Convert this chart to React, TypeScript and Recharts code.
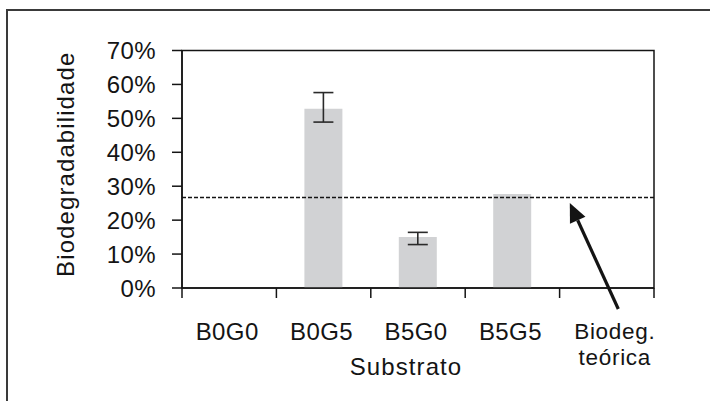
import React from 'react';
import {
  ComposedChart,
  Bar,
  XAxis,
  YAxis,
  ErrorBar,
  ReferenceLine,
  ReferenceDot,
  ReferenceArea,
} from 'recharts';

// ---- data ----
const categories = ['B0G0', 'B0G5', 'B5G0', 'B5G5', 'Biodeg. teórica'];
const biodegradability = [0, 52.8, 15.0, 27.7, null];
const errorLow = [null, 3.9, 2.2, null, null];
const errorHigh = [null, 4.8, 1.4, null, null];
const theoreticalBiodeg = 26.7;
const yTicks = [0, 10, 20, 30, 40, 50, 60, 70];

const data = categories.map((c, i) => ({
  name: c,
  value: biodegradability[i],
  err: errorLow[i] == null ? undefined : [errorLow[i], errorHigh[i]],
}));

// ---- layout ----
const W = 710;
const H = 401;
const M_TOP = 50.5;
const M_RIGHT = 56;
const Y_AXIS_W = 182;
const X_AXIS_H = 113;
const PLOT_W = W - Y_AXIS_W - M_RIGHT;
const BAND = PLOT_W / categories.length;
const FONT = '"Liberation Sans", Arial, sans-serif';
const INK = '#141414';
const TICK_STYLE = { fontFamily: FONT, fontSize: 24, letterSpacing: 0.4, fill: INK };
const TWO_LINE_STYLE = { fontFamily: FONT, fontSize: 22.5, letterSpacing: 0.7, fill: INK };
const TITLE_STYLE = { fontFamily: FONT, fontSize: 24, letterSpacing: 1.1, fill: INK };

const XTick = (props: any) => {
  const { x, y, payload, index } = props;
  const label: string = String(payload.value);
  const lines = label.split(' ');
  const multi = lines.length > 1;
  const shift = multi ? 8 : -2;
  const isLast = index === categories.length - 1;
  return (
    <g>
      <line x1={x - BAND / 2} x2={x - BAND / 2} y1={y} y2={y + 10} stroke={INK} strokeWidth={1.5} />
      {isLast && (
        <line x1={x + BAND / 2} x2={x + BAND / 2} y1={y} y2={y + 10} stroke={INK} strokeWidth={1.5} />
      )}
      {lines.map((ln, i) => (
        <text
          key={i}
          x={x + shift}
          y={y + (multi ? 51 + i * 26 : 52)}
          textAnchor="middle"
          style={multi ? TWO_LINE_STYLE : TICK_STYLE}
        >
          {ln}
        </text>
      ))}
    </g>
  );
};

const YLabel = (props: any) => {
  const vb = props.viewBox || { x: 0, y: M_TOP, width: Y_AXIS_W, height: 237.5 };
  const cx = vb.x + 65;
  const cy = vb.y + vb.height / 2 - 5;
  return (
    <text
      x={cx}
      y={cy}
      transform={`rotate(-90, ${cx}, ${cy})`}
      textAnchor="middle"
      dominantBaseline="central"
      style={TITLE_STYLE}
    >
      Biodegradabilidade
    </text>
  );
};

const XLabel = (props: any) => {
  const vb = props.viewBox || { x: Y_AXIS_W, y: 288, width: PLOT_W, height: X_AXIS_H };
  return (
    <text x={vb.x + vb.width / 2 - 12} y={vb.y + 87} textAnchor="middle" style={TITLE_STYLE}>
      Substrato
    </text>
  );
};

const Arrow = (props: any) => {
  const { cx, cy } = props;
  if (cx == null || cy == null) return null;
  const tip = { x: cx - 37, y: cy + 5.6 };
  const tail = { x: cx + 11.5, y: cy + 111.6 };
  const dx = tail.x - tip.x;
  const dy = tail.y - tip.y;
  const len = Math.sqrt(dx * dx + dy * dy);
  const ux = dx / len;
  const uy = dy / len;
  const headLen = 19;
  const halfW = 8.5;
  const bx = tip.x + ux * headLen;
  const by = tip.y + uy * headLen;
  const px = -uy;
  const py = ux;
  return (
    <g>
      <line x1={bx} y1={by} x2={tail.x} y2={tail.y} stroke={INK} strokeWidth={3.2} />
      <polygon
        points={`${tip.x},${tip.y} ${bx + px * halfW},${by + py * halfW} ${bx - px * halfW},${by - py * halfW}`}
        fill={INK}
      />
    </g>
  );
};

export default function App() {
  return (
    <div
      style={{
        position: 'absolute',
        left: 0,
        top: 0,
        width: W,
        height: H,
        overflow: 'hidden',
        background: '#fff',
      }}
    >
      <div
        style={{
          position: 'absolute',
          left: 6,
          top: 8.5,
          width: 900,
          height: 600,
          borderLeft: '2px solid #3a3a3a',
          borderTop: '2px solid #3a3a3a',
        }}
      />
      <div style={{ position: 'absolute', left: 0, top: 0 }}>
        <ComposedChart
          width={W}
          height={H}
          data={data}
          margin={{ top: M_TOP, right: M_RIGHT, left: 0, bottom: 0 }}
        >
          <XAxis
            dataKey="name"
            xAxisId="main"
            height={X_AXIS_H}
            interval={0}
            tickLine={false}
            tickSize={0}
            tickMargin={0}
            axisLine={{ stroke: INK, strokeWidth: 1.5 }}
            tick={<XTick />}
            label={<XLabel />}
          />
          <YAxis
            yAxisId="main"
            width={Y_AXIS_W}
            domain={[0, 70]}
            ticks={yTicks}
            interval={0}
            tickFormatter={(v: number) => `${v}%`}
            tickSize={10}
            tickMargin={16}
            tickLine={{ stroke: INK, strokeWidth: 1.5 }}
            axisLine={{ stroke: INK, strokeWidth: 1.5 }}
            tick={{ ...TICK_STYLE }}
            label={<YLabel />}
          />
          <ReferenceArea
            xAxisId="main"
            yAxisId="main"
            y1={0}
            y2={70}
            fill="none"
            fillOpacity={0}
            stroke={INK}
            strokeWidth={1.5}
            ifOverflow="visible"
          />
          <Bar
            dataKey="value"
            xAxisId="main"
            yAxisId="main"
            fill="#d1d2d4"
            barSize={38}
            isAnimationActive={false}
          >
            <ErrorBar dataKey="err" direction="y" width={10} stroke="#2a2a2a" strokeWidth={1.6} />
          </Bar>
          <ReferenceLine
            xAxisId="main"
            yAxisId="main"
            y={theoreticalBiodeg}
            stroke={INK}
            strokeWidth={1.5}
            strokeDasharray="4 2"
          />
          <ReferenceDot
            xAxisId="main"
            yAxisId="main"
            x="Biodeg. teórica"
            y={theoreticalBiodeg}
            ifOverflow="visible"
            shape={<Arrow />}
          />
        </ComposedChart>
      </div>
    </div>
  );
}
